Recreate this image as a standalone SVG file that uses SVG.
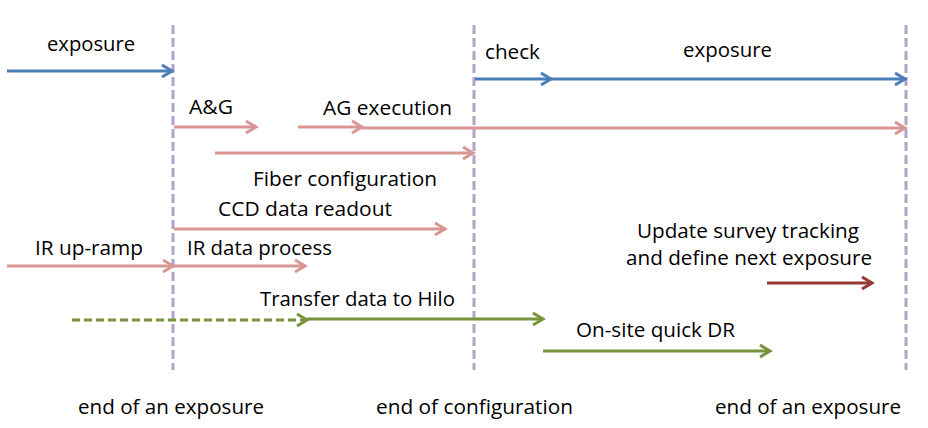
<svg xmlns="http://www.w3.org/2000/svg" width="928" height="428" viewBox="0 0 928 428">
<style>
text{font-family:"Open Sans","Liberation Sans",sans-serif;font-size:20px;fill:#000}
.v{stroke:#b3a2c7;stroke-width:3;stroke-dasharray:9 4;fill:none}
.b{stroke:#4a7ebb;stroke-width:3;fill:none}
.p{stroke:#d99694;stroke-width:3;fill:none}
.g{stroke:#77933c;stroke-width:3;fill:none}
.r{stroke:#953735;stroke-width:3;fill:none}
</style>
<defs>
<marker id="mb" markerUnits="userSpaceOnUse" markerWidth="14" markerHeight="16" refX="11" refY="7" orient="auto"><path d="M1,1 L11,7 L1,13" fill="none" stroke="#4a7ebb" stroke-width="3"/></marker>
<marker id="mp" markerUnits="userSpaceOnUse" markerWidth="14" markerHeight="16" refX="11" refY="7" orient="auto"><path d="M1,1 L11,7 L1,13" fill="none" stroke="#d99694" stroke-width="3"/></marker>
<marker id="mg" markerUnits="userSpaceOnUse" markerWidth="14" markerHeight="16" refX="11" refY="7" orient="auto"><path d="M1,1 L11,7 L1,13" fill="none" stroke="#77933c" stroke-width="3"/></marker>
<marker id="mr" markerUnits="userSpaceOnUse" markerWidth="14" markerHeight="16" refX="11" refY="7" orient="auto"><path d="M1,1 L11,7 L1,13" fill="none" stroke="#953735" stroke-width="3"/></marker>
</defs>
<rect width="928" height="428" fill="#fff"/>
<g id="timelines">
<line class="v" x1="173" y1="25" x2="173" y2="370"/>
<line class="v" x1="474" y1="25" x2="474" y2="370"/>
<line class="v" x1="906" y1="25" x2="906" y2="370"/>
</g>
<g id="connectors">
<line class="b" x1="7" y1="71" x2="172" y2="71" marker-end="url(#mb)"/>
<line class="b" x1="475" y1="79" x2="551" y2="79" marker-end="url(#mb)"/>
<line class="b" x1="551" y1="79" x2="905" y2="79" marker-end="url(#mb)"/>
<line class="p" x1="174" y1="127" x2="256" y2="127" marker-end="url(#mp)"/>
<line class="p" x1="298" y1="127" x2="362" y2="127" marker-end="url(#mp)"/>
<line class="p" x1="362" y1="128" x2="905" y2="128" marker-end="url(#mp)"/>
<line class="p" x1="215" y1="153" x2="473" y2="153" marker-end="url(#mp)"/>
<line class="p" x1="174" y1="229" x2="445" y2="229" marker-end="url(#mp)"/>
<line class="p" x1="7" y1="266" x2="173" y2="266" marker-end="url(#mp)"/>
<line class="p" x1="174" y1="266" x2="305" y2="266" marker-end="url(#mp)"/>
<line class="g" x1="72" y1="320" x2="307" y2="320" stroke-dasharray="8 4" marker-end="url(#mg)"/>
<line class="g" x1="307" y1="319" x2="543" y2="319" marker-end="url(#mg)"/>
<line class="g" x1="543" y1="351" x2="770" y2="351" marker-end="url(#mg)"/>
<line class="r" x1="767" y1="283" x2="872" y2="283" marker-end="url(#mr)"/>
</g>
<g id="labels">
<text x="47" y="51" textLength="88" lengthAdjust="spacingAndGlyphs">exposure</text>
<text x="485" y="59" textLength="55" lengthAdjust="spacingAndGlyphs">check</text>
<text x="683" y="57" textLength="89" lengthAdjust="spacingAndGlyphs">exposure</text>
<text x="189" y="114" textLength="44" lengthAdjust="spacingAndGlyphs">A&amp;G</text>
<text x="323" y="115" textLength="129" lengthAdjust="spacingAndGlyphs">AG execution</text>
<text x="253" y="186" textLength="184" lengthAdjust="spacingAndGlyphs">Fiber configuration</text>
<text x="218" y="216" textLength="174" lengthAdjust="spacingAndGlyphs">CCD data readout</text>
<text x="35" y="255" textLength="108" lengthAdjust="spacingAndGlyphs">IR up-ramp</text>
<text x="187" y="255" textLength="145" lengthAdjust="spacingAndGlyphs">IR data process</text>
<text x="637" y="238" textLength="222" lengthAdjust="spacingAndGlyphs">Update survey tracking</text>
<text x="626" y="265" textLength="246" lengthAdjust="spacingAndGlyphs">and define next exposure</text>
<text x="260" y="306" textLength="195" lengthAdjust="spacingAndGlyphs">Transfer data to Hilo</text>
<text x="576" y="337" textLength="159" lengthAdjust="spacingAndGlyphs">On-site quick DR</text>
<text x="78" y="414" textLength="186" lengthAdjust="spacingAndGlyphs">end of an exposure</text>
<text x="376" y="414" textLength="197" lengthAdjust="spacingAndGlyphs">end of configuration</text>
<text x="715" y="414" textLength="186" lengthAdjust="spacingAndGlyphs">end of an exposure</text>
</g>
</svg>
